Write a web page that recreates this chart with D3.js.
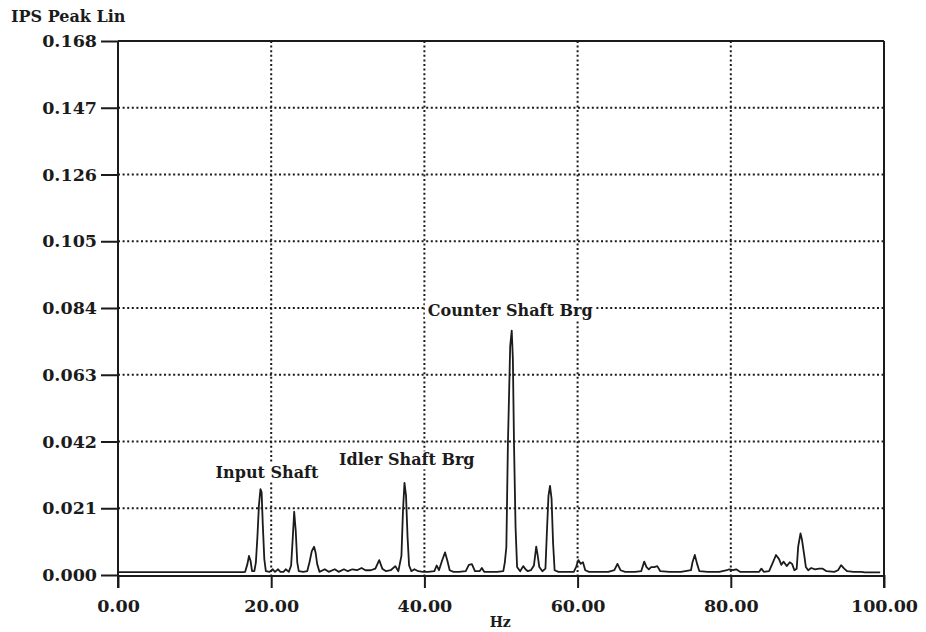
<!DOCTYPE html>
<html>
<head>
<meta charset="utf-8">
<script src="https://cdn.jsdelivr.net/npm/d3@7"></script>
<style>
  body { margin: 0; background: #fff; }
  text { font-family: "DejaVu Serif", serif; font-weight: bold; fill: #1b1b1b; }
</style>
</head>
<body>
<div id="chart"></div>
<script>
// ================== DATOS ==================
const freqHz = [0, 16.4, 16.6, 16.9, 17.1, 17.3, 17.5, 17.8, 18.0, 18.2, 18.4, 18.6, 18.75, 18.9, 19.1, 19.3,
  19.8, 20.2, 20.5, 20.9, 21.2, 21.6, 21.9, 22.3, 22.6, 22.8, 23.0, 23.2, 23.4, 23.6, 24.2, 24.7, 25.0, 25.3,
  25.6, 25.8, 26.0, 26.3, 27.0, 27.5, 28.3, 28.8, 29.5, 30.0, 30.6, 31.2, 31.8, 32.3, 33.0, 33.6, 34.1, 34.5,
  35.0, 35.6, 36.2, 36.6, 37.0, 37.2, 37.4, 37.6, 37.8, 38.0, 38.3, 38.7, 39.2, 39.8, 40.5, 41.3, 41.6, 41.9,
  42.3, 42.7, 43.0, 43.3, 43.8, 44.5, 45.4, 45.8, 46.2, 46.6, 47.2, 47.5, 47.8, 48.5, 49.5, 50.3, 50.5, 50.7,
  50.9, 51.2, 51.4, 51.55, 51.7, 51.9, 52.1, 52.5, 52.9, 53.2, 53.5, 53.9, 54.3, 54.6, 54.8, 55.0, 55.4, 55.8,
  56.0, 56.2, 56.4, 56.6, 56.8, 57.0, 57.5, 58.5, 59.5, 59.8, 60.1, 60.4, 60.7, 61.0, 61.5, 62.5, 64.0, 64.8,
  65.2, 65.6, 66.2, 67.5, 68.3, 68.7, 69.0, 69.3, 69.6, 70.0, 70.4, 70.8, 72.0, 73.5, 74.8, 75.0, 75.3, 75.6,
  75.9, 77.0, 78.5, 79.5, 79.8, 80.3, 80.7, 81.2, 82.5, 83.7, 84.0, 84.3, 85.0, 85.5, 85.9, 86.3, 86.6, 86.9,
  87.3, 87.7, 88.0, 88.3, 88.6, 88.8, 89.1, 89.3, 89.6, 89.8, 90.1, 90.5, 91.0, 91.5, 92.0, 92.5, 93.5, 94.0,
  94.4, 94.8, 95.2, 96.0, 97.0, 97.5, 98.5, 99.5];

const ampIps = [0.0009, 0.0009, 0.001, 0.0035, 0.006, 0.0045, 0.0012, 0.0012, 0.004, 0.012, 0.022, 0.027, 0.026, 0.016, 0.005, 0.0012,
  0.001, 0.0018, 0.001, 0.0018, 0.001, 0.001, 0.0018, 0.001, 0.003, 0.011, 0.0199, 0.014, 0.004, 0.0012, 0.001, 0.0012, 0.004, 0.0075,
  0.0089, 0.007, 0.0035, 0.001, 0.0018, 0.001, 0.0018, 0.001, 0.0018, 0.0012, 0.0018, 0.0015, 0.0022, 0.0015, 0.0015, 0.002, 0.0047, 0.002,
  0.0012, 0.0015, 0.0028, 0.0012, 0.006, 0.02, 0.029, 0.025, 0.012, 0.003, 0.0012, 0.0018, 0.0012, 0.001, 0.001, 0.0012, 0.003, 0.0015,
  0.0045, 0.0071, 0.0045, 0.0015, 0.001, 0.001, 0.0012, 0.0032, 0.0034, 0.0012, 0.0012, 0.0022, 0.001, 0.001, 0.001, 0.0012, 0.004, 0.0088,
  0.041, 0.072, 0.0769, 0.068, 0.041, 0.015, 0.0025, 0.0012, 0.0028, 0.0018, 0.0012, 0.0015, 0.003, 0.0089, 0.006, 0.0025, 0.0012, 0.002,
  0.014, 0.025, 0.028, 0.024, 0.01, 0.0015, 0.001, 0.001, 0.001, 0.0025, 0.0047, 0.0035, 0.004, 0.0015, 0.001, 0.001, 0.001, 0.0015,
  0.0035, 0.0015, 0.001, 0.001, 0.0012, 0.0042, 0.0025, 0.0018, 0.0025, 0.0025, 0.0028, 0.0012, 0.001, 0.001, 0.0015, 0.004, 0.0063, 0.0035,
  0.0012, 0.001, 0.001, 0.0015, 0.0018, 0.0015, 0.0018, 0.001, 0.001, 0.001, 0.002, 0.001, 0.0012, 0.004, 0.0063, 0.005, 0.0032, 0.0042,
  0.0028, 0.004, 0.0035, 0.0015, 0.002, 0.009, 0.0131, 0.011, 0.006, 0.0025, 0.0015, 0.0022, 0.0018, 0.002, 0.002, 0.0012, 0.001, 0.0015,
  0.0031, 0.002, 0.0012, 0.001, 0.001, 0.0008, 0.0008, 0.0008];

const yTicks = [0, 0.021, 0.042, 0.063, 0.084, 0.105, 0.126, 0.147, 0.168];
const xTicks = [0, 20, 40, 60, 80, 100];

// anotaciones: texto y punto de anclaje (Hz, IPS) de la línea base del texto
const noteText = ["Input Shaft", "Idler Shaft Brg", "Counter Shaft Brg"];
const noteHz = [19.45, 37.7, 51.2];
const noteIps = [0.0305, 0.0345, 0.0816];

// ================== CONFIGURACIÓN D3 ==================
const svgWidth = 926;
const svgHeight = 632;
const margin = { top: 41, right: 42, bottom: 57, left: 118 };
const width = svgWidth - margin.left - margin.right;
const height = svgHeight - margin.top - margin.bottom;
const ink = "#1b1b1b";

const svg = d3.select("#chart")
  .append("svg")
  .attr("width", svgWidth)
  .attr("height", svgHeight)
  .append("g")
  .attr("transform", `translate(${margin.left},${margin.top})`);

const x = d3.scaleLinear().domain([0, 100]).range([0, width]);
const y = d3.scaleLinear().domain([0, 0.168]).range([height, 0]);

// Rejilla punteada
svg.selectAll(".hgrid")
  .data(yTicks.filter(d => d > 0 && d < 0.168))
  .enter().append("line")
  .attr("x1", 0).attr("x2", width)
  .attr("y1", d => y(d)).attr("y2", d => y(d))
  .attr("stroke", ink).attr("stroke-width", 2)
  .attr("stroke-dasharray", "2,2.6");

svg.selectAll(".vgrid")
  .data(xTicks.filter(d => d > 0 && d < 100))
  .enter().append("line")
  .attr("x1", d => x(d)).attr("x2", d => x(d))
  .attr("y1", 0).attr("y2", height)
  .attr("stroke", ink).attr("stroke-width", 2)
  .attr("stroke-dasharray", "2,2.6");

// Ejes
const yAxis = svg.append("g")
  .call(d3.axisLeft(y).tickValues(yTicks).tickFormat(d3.format(".3f")).tickSize(17).tickPadding(4));
const xAxis = svg.append("g")
  .attr("transform", `translate(0,${height})`)
  .call(d3.axisBottom(x).tickValues(xTicks).tickFormat(d3.format(".2f")).tickSize(13).tickPadding(12));

[yAxis, xAxis].forEach(a => {
  a.select(".domain").remove();
  a.selectAll(".tick line").attr("stroke", ink).attr("stroke-width", 2);
  a.selectAll("text").attr("fill", ink).style("font-size", "17.5px")
    .style("font-family", "'DejaVu Serif', serif").style("font-weight", "bold");
});

// Marco
svg.append("line").attr("x1", 0).attr("x2", width).attr("y1", 0).attr("y2", 0)
  .attr("stroke", ink).attr("stroke-width", 2);
svg.append("line").attr("x1", 0).attr("x2", width).attr("y1", height + 1).attr("y2", height + 1)
  .attr("stroke", ink).attr("stroke-width", 2);
svg.append("line").attr("x1", 0).attr("x2", 0).attr("y1", 0).attr("y2", height + 13)
  .attr("stroke", ink).attr("stroke-width", 2);
svg.append("line").attr("x1", width).attr("x2", width).attr("y1", 0).attr("y2", height + 13)
  .attr("stroke", ink).attr("stroke-width", 2);

// Espectro
const spectrum = freqHz.map((f, i) => [f, ampIps[i]]);
svg.append("path")
  .datum(spectrum)
  .attr("fill", "none")
  .attr("stroke", ink)
  .attr("stroke-width", 1.8)
  .attr("stroke-linejoin", "round")
  .attr("d", d3.line().x(d => x(d[0])).y(d => y(d[1])));

// Anotaciones con fondo blanco
noteText.forEach((t, i) => {
  const g = svg.append("g");
  const txt = g.append("text")
    .attr("x", x(noteHz[i]))
    .attr("y", y(noteIps[i]))
    .attr("text-anchor", "middle")
    .style("font-size", "16px")
    .text(t);
  const bb = txt.node().getBBox();
  g.insert("rect", "text")
    .attr("x", bb.x - 3).attr("y", bb.y + 1)
    .attr("width", bb.width + 6).attr("height", bb.height - 1)
    .attr("fill", "#fff");
});

// Títulos de ejes
svg.append("text")
  .attr("x", -107).attr("y", -19)
  .style("font-size", "16px")
  .text("IPS Peak Lin");

svg.append("text")
  .attr("x", x(49.9)).attr("y", height + 52)
  .attr("text-anchor", "middle")
  .style("font-size", "14px")
  .text("Hz");
</script>
</body>
</html>
